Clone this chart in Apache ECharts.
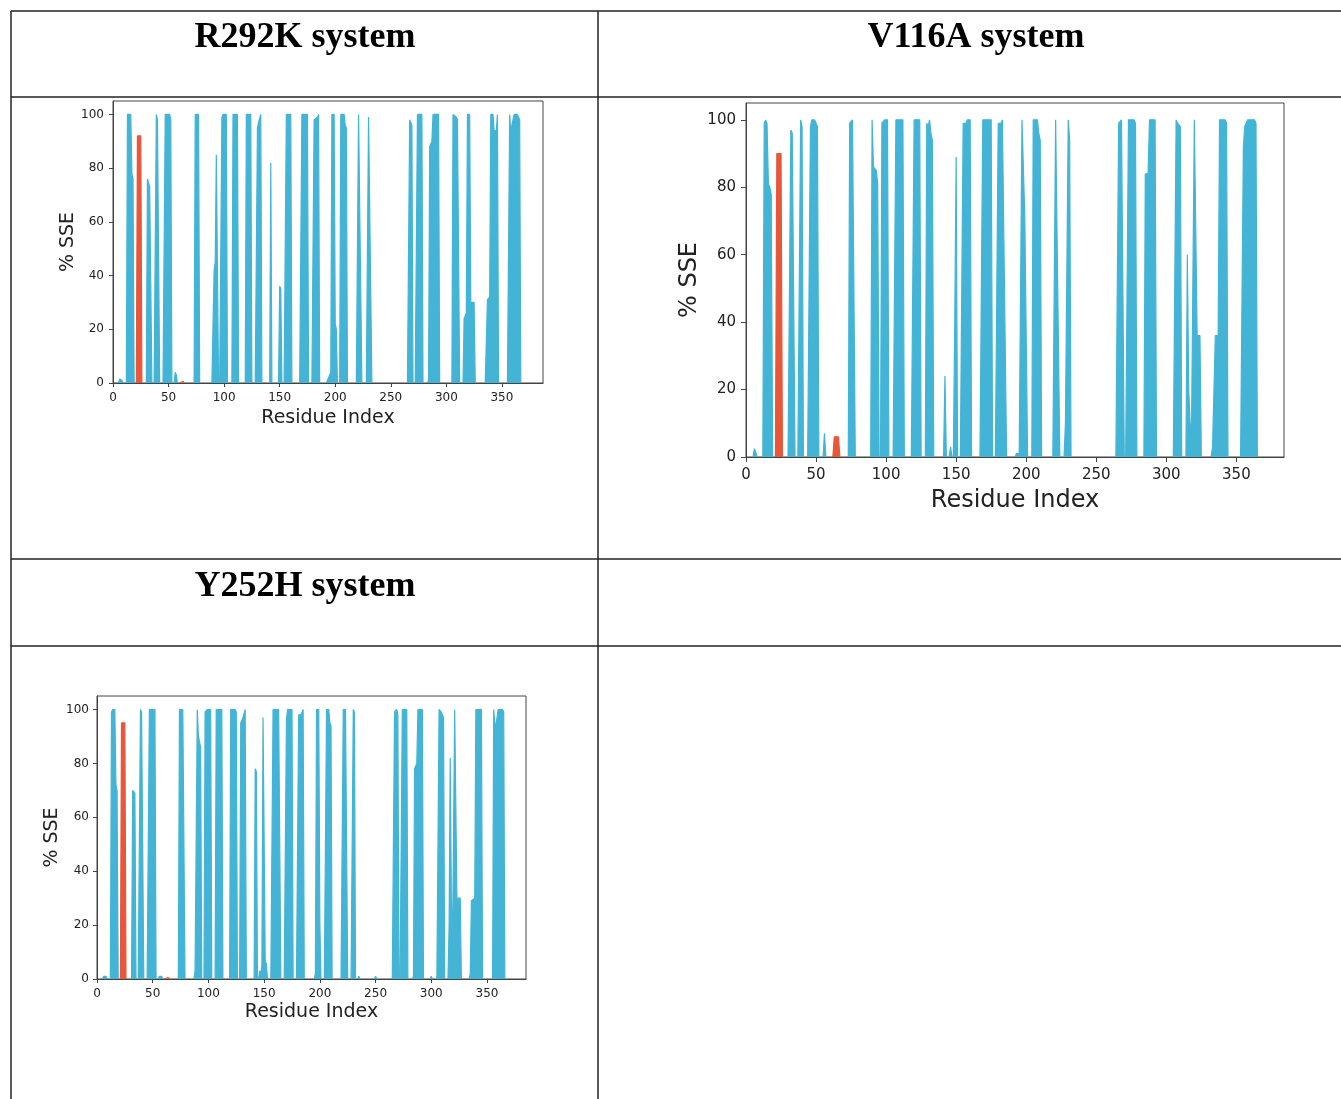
<!DOCTYPE html>
<html>
<head>
<meta charset="utf-8">
<title>% SSE per residue</title>
<script src="https://cdn.jsdelivr.net/npm/echarts@6/dist/echarts.min.js"></script>
<style>
  html, body { margin: 0; padding: 0; background: #fff; }
  #main { width: 1341px; height: 1099px; }
</style>
</head>
<body>
<div id="main"></div>
<script>
// panel titles
var panelTitles = ['R292K system', 'V116A system', 'Y252H system'];

// tick labels shared by the three plots
var xTicks = [0, 50, 100, 150, 200, 250, 300, 350];
var yTicks = [0, 20, 40, 60, 80, 100];

// R292K: [residue, % SSE], strand (blue) and helix (red)
var r292kStrand = [
  [5,0],[6,1.5],[8,1],[9,0],
  [12,0],[13,100],[16,100],[17,78],[18,76],[19,0],
  [30,0],[31,76],[33,73],[34,73],[35,0],
  [37,0],[39,100],[40,98],[42,0],
  [45,0],[47,100],[51,100],[52,98],[53,0],
  [55,0],[56,4],[57,3],[58,0],
  [73,0],[74,100],[77,100],[78,0],
  [89,0],[91,42],[92,45],[93,85],[94,85],[95,0],
  [96,0],[98,99],[99,100],[102,100],[103,0],
  [107,0],[108,100],[112,100],[113,0],
  [119,0],[120,100],[124,100],[125,0],
  [128,0],[130,95],[131,97],[133,100],[134,0],
  [141,0],[142,82],[143,0],
  [149,0],[150,36],[151,35],[152,0],
  [154,0],[156,100],[160,100],[161,0],
  [168,0],[170,100],[175,100],[176,0],
  [179,0],[181,98],[184,99],[185,100],[186,0],
  [192,0],[194,2],[196,4],[197,100],[199,100],[200,22],[201,20],[202,0],
  [204,0],[205,100],[208,100],[209,96],[210,95],[211,0],
  [219,0],[221,100],[222,100],[224,0],
  [228,0],[230,99],[231,99],[233,0],
  [265,0],[267,98],[269,96],[270,0],
  [272,0],[274,100],[278,100],[279,0],
  [283,0],[284,1],[285,88],[287,90],[288,100],[293,100],[294,0],
  [305,0],[306,100],[309,99],[310,98],[312,0],
  [315,0],[316,24],[318,26],[319,100],[321,100],[322,30],[325,30],[326,0],
  [335,0],[337,31],[339,32],[340,100],[342,100],[343,94],[345,94],[346,100],[347,0],
  [355,0],[357,100],[358,93],[359,96],[361,100],[364,100],[366,98],[367,0]
];
var r292kHelix = [[21,0],[22,92],[25,92],[26,0],[60,0],[61,0.6],[63,0.6],[64,0]];

// V116A
var v116aStrand = [
  [5,0],[6,2.5],[7,2.5],[8,0],
  [12,0],[13,99],[14,100],[15,99],[16,81],[17,80],[18,78],[19,0],
  [30,0],[32,97],[33,96],[35,0],
  [37,0],[39,100],[40,98],[41,0],
  [44,0],[46,98],[47,100],[49,100],[51,98],[52,0],
  [55,0],[56,7],[57,0],
  [73,0],[74,99],[76,100],[77,100],[78,0],
  [89,0],[90,100],[91,86],[93,85],[94,81],[95,0],
  [96,0],[97,99],[99,100],[101,100],[102,0],
  [105,0],[107,100],[112,100],[113,0],
  [118,0],[120,100],[124,100],[125,0],
  [128,0],[129,99],[130,98],[131,100],[132,96],[133,94],[134,0],
  [141,0],[142,24],[143,0],
  [145,0],[146,3],[147,0],
  [148,0],[149,40],[150,89],[151,0],
  [153,0],[155,99],[157,99],[158,100],[160,100],[161,0],
  [167,0],[169,100],[175,100],[176,0],
  [178,0],[180,99],[182,99],[183,100],[184,100],[186,0],
  [192,0],[193,1],[195,1],[196,0.5],[197,100],[198,100],[199,71],[200,71],[201,0],
  [204,0],[205,100],[208,100],[209,96],[210,94],[211,0],
  [219,0],[221,100],[222,100],[224,0],
  [227,0],[228,10],[230,100],[231,94],[232,0],
  [264,0],[266,99],[268,100],[270,0],
  [271,0],[273,100],[277,100],[278,99],[279,0],
  [284,0],[285,84],[287,84],[288,100],[292,100],[293,0],
  [305,0],[307,100],[308,99],[310,98],[311,0],
  [314,0],[315,60],[316,20],[317,10],[318,8],[320,100],[321,100],[322,36],[324,36],[325,0],
  [332,0],[333,3],[335,36],[337,36],[338,100],[342,100],[343,99],[344,0],
  [353,0],[355,92],[356,98],[358,100],[363,100],[364,99],[365,0]
];
var v116aHelix = [[21,0],[22,90],[25,90],[26,0],[62,0],[63,6],[66,6],[67,0]];

// Y252H
var y252hStrand = [
  [5,0],[6,1],[8,1],[9,0],
  [12,0],[13,99],[14,100],[16,100],[17,72],[18,70],[19,0],
  [31,0],[32,70],[34,69],[35,0],
  [37,0],[39,100],[40,99],[42,0],
  [45,0],[47,100],[52,100],[53,0],
  [55,0],[56,1],[58,1],[59,0],
  [73,0],[74,100],[77,100],[79,0],
  [87,0],[88,3],[89,3],[90,100],[91,90],[93,86],[94,0],
  [96,0],[97,99],[99,100],[102,100],[103,0],
  [106,0],[107,100],[112,100],[113,0],
  [119,0],[120,100],[124,100],[125,99],[126,0],
  [128,0],[129,95],[131,97],[133,100],[134,0],
  [141,0],[142,78],[143,77],[144,0],
  [145,0],[146,3],[147,2],[148,5],[149,97],[150,97],[151,5],[152,6],[153,0],
  [156,0],[158,100],[163,100],[165,0],
  [168,0],[170,96],[171,100],[175,100],[176,0],
  [179,0],[181,98],[183,98],[185,100],[186,0],
  [195,0],[196,2],[197,100],[199,100],[200,21],[201,0],
  [204,0],[206,100],[208,100],[209,95],[210,94],[211,0],
  [219,0],[221,100],[223,100],[225,0],
  [228,0],[230,100],[231,99],[232,0],
  [234,0],[235,1],[236,0],
  [249,0],[250,1],[251,0],
  [265,0],[267,99],[269,100],[270,98],[271,0],
  [272,0],[274,100],[278,100],[279,0],
  [283,0],[284,1],[285,78],[287,80],[288,100],[292,100],[293,0],
  [299,0],[300,1],[301,0],
  [305,0],[307,100],[309,99],[311,97],[312,0],
  [315,0],[316,20],[317,82],[318,30],[319,10],[321,100],[322,100],[323,30],[326,30],[327,0],
  [334,0],[335,2],[336,29],[339,30],[340,100],[345,100],[346,0],
  [355,0],[356,100],[357,95],[358,94],[360,100],[364,100],[365,99],[366,0]
];
var y252hHelix = [[21,0],[22,95],[25,95],[26,0],[60,0],[61,0.5],[64,0.5],[65,0]];

var strandColor = '#43b4d5';
var helixColor = '#e8573a';
var frameColor = '#444';
var axisFont = 'DejaVu Sans';

// layout of the three plots inside the table
var panels = [
  { strand: r292kStrand, helix: r292kHelix, left: 113, top: 101, width: 430, height: 282,
    xMax: 387, tickSize: 12, nameSize: 19, xGap: 26, yGap: 35, xMargin: 9, yMargin: 9, tickLen: 4 },
  { strand: v116aStrand, helix: v116aHelix, left: 746, top: 103, width: 538, height: 354,
    xMax: 384, tickSize: 15, nameSize: 24, xGap: 32, yGap: 44, xMargin: 11, yMargin: 10, tickLen: 5 },
  { strand: y252hStrand, helix: y252hHelix, left: 97, top: 696, width: 429, height: 283,
    xMax: 385, tickSize: 12, nameSize: 19, xGap: 24, yGap: 35, xMargin: 9, yMargin: 8, tickLen: 4 }
];

// break the outline wherever two zero points follow each other,
// so no coloured stroke runs along the x axis between blocks
function withGaps(points) {
  var out = [];
  points.forEach(function (pt, k) {
    var prev = points[k - 1];
    if (prev && prev[1] === 0 && pt[1] === 0) {
      out.push([(prev[0] + pt[0]) / 2, null]);
    }
    out.push(pt);
  });
  return out;
}

var chart = echarts.init(document.getElementById('main'));

var grids = [], xAxes = [], yAxes = [], series = [];
panels.forEach(function (p, i) {
  grids.push({
    left: p.left, top: p.top, width: p.width, height: p.height,
    show: true, borderColor: frameColor, borderWidth: 1, backgroundColor: '#fff'
  });
  xAxes.push({
    type: 'value', gridIndex: i, min: 0, max: p.xMax, z: 5,
    name: 'Residue Index', nameLocation: 'middle', nameGap: p.xGap,
    nameTextStyle: { fontFamily: axisFont, fontSize: p.nameSize, color: '#222' },
    axisLine: { lineStyle: { color: frameColor, width: 1.2 } },
    axisTick: { customValues: xTicks, length: p.tickLen, lineStyle: { color: frameColor } },
    axisLabel: { customValues: xTicks, fontFamily: axisFont, fontSize: p.tickSize, color: '#222', margin: p.xMargin },
    splitLine: { show: false }
  });
  yAxes.push({
    type: 'value', gridIndex: i, min: 0, max: 105, z: 5,
    name: '% SSE', nameLocation: 'middle', nameGap: p.yGap, nameRotate: 90,
    nameTextStyle: { fontFamily: axisFont, fontSize: p.nameSize, color: '#222' },
    axisLine: { show: true, lineStyle: { color: frameColor } },
    axisTick: { show: true, customValues: yTicks, length: p.tickLen, lineStyle: { color: frameColor } },
    axisLabel: { customValues: yTicks, fontFamily: axisFont, fontSize: p.tickSize, color: '#222', margin: p.yMargin },
    splitLine: { show: false }
  });
  [[p.strand, strandColor], [p.helix, helixColor]].forEach(function (s) {
    series.push({
      type: 'line', xAxisIndex: i, yAxisIndex: i, data: withGaps(s[0]),
      connectNulls: false, showSymbol: false, silent: true, animation: false, clip: true,
      lineStyle: { width: 1.2, color: s[1] },
      areaStyle: { color: s[1], opacity: 1 }
    });
  });
});

// table rules and titles
function rule(x1, y1, x2, y2) {
  return { type: 'line', shape: { x1: x1, y1: y1, x2: x2, y2: y2 },
    style: { stroke: '#222', lineWidth: 1.5 }, z: 10 };
}
function heading(text, cx, cy) {
  return { type: 'text', x: cx, y: cy, z: 10,
    style: { text: text, fontFamily: 'Liberation Serif', fontWeight: 'bold', fontSize: 36,
      fill: '#000', align: 'center', verticalAlign: 'middle' } };
}

var graphics = [
  rule(11, 11, 1341, 11),
  rule(11, 97, 1341, 97),
  rule(11, 559, 1341, 559),
  rule(11, 646, 1341, 646),
  rule(11, 11, 11, 1099),
  rule(598, 11, 598, 1099),
  heading(panelTitles[0], 305, 38),
  heading(panelTitles[1], 976, 38),
  heading(panelTitles[2], 305, 587)
];

chart.setOption({
  backgroundColor: '#fff',
  animation: false,
  grid: grids,
  xAxis: xAxes,
  yAxis: yAxes,
  series: series,
  graphic: graphics
});
</script>
</body>
</html>
